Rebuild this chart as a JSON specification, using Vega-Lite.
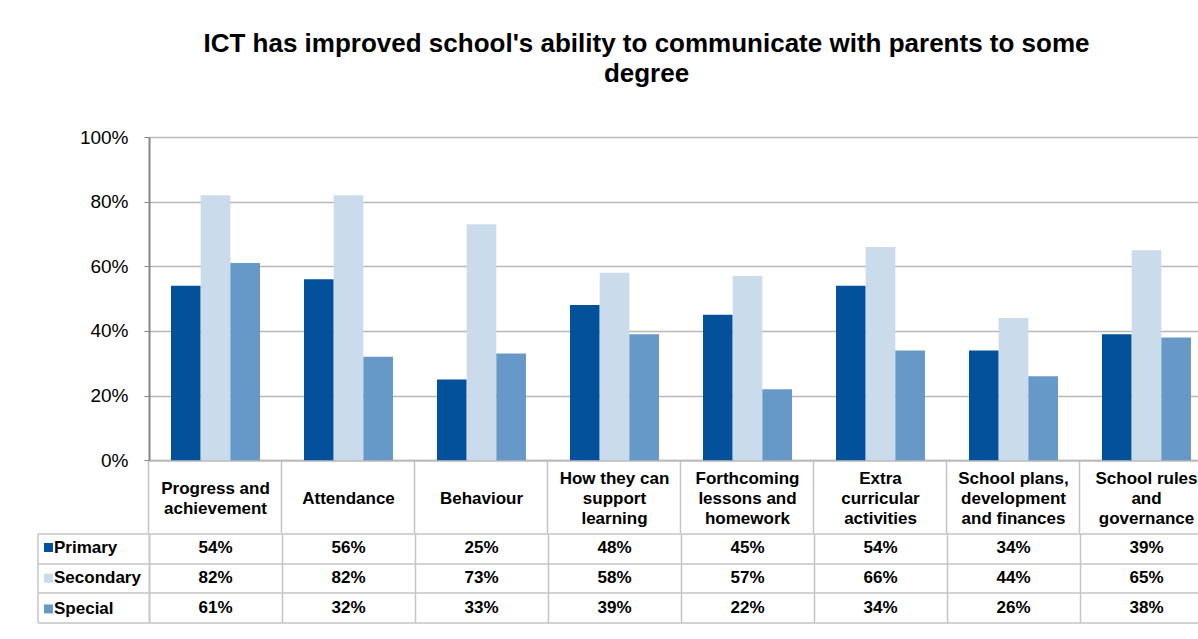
{
  "$schema": "https://vega.github.io/schema/vega-lite/v6.json",
  "usermeta": {"embedOptions": {"actions": false}},
  "padding": {"left": 36, "top": 31, "right": -13, "bottom": 0},
  "background": "white",
  "title": {
    "text": ["ICT has improved school's ability to communicate with parents to some", "degree"],
    "font": "Liberation Sans",
    "fontSize": 26,
    "fontWeight": "bold",
    "color": "black",
    "anchor": "middle",
    "frame": "group",
    "dx": -34.5,
    "lineHeight": 30,
    "offset": 41
  },
  "config": {
    "view": {"stroke": null},
    "font": "Liberation Sans",
    "legend": {"padding": 0}
  },
  "data": {
    "values": [
      {"category": "Progress and achievement", "series": "Primary", "value": 0.54},
      {"category": "Progress and achievement", "series": "Secondary", "value": 0.82},
      {"category": "Progress and achievement", "series": "Special", "value": 0.61},
      {"category": "Attendance", "series": "Primary", "value": 0.56},
      {"category": "Attendance", "series": "Secondary", "value": 0.82},
      {"category": "Attendance", "series": "Special", "value": 0.32},
      {"category": "Behaviour", "series": "Primary", "value": 0.25},
      {"category": "Behaviour", "series": "Secondary", "value": 0.73},
      {"category": "Behaviour", "series": "Special", "value": 0.33},
      {"category": "How they can support learning", "series": "Primary", "value": 0.48},
      {"category": "How they can support learning", "series": "Secondary", "value": 0.58},
      {"category": "How they can support learning", "series": "Special", "value": 0.39},
      {"category": "Forthcoming lessons and homework", "series": "Primary", "value": 0.45},
      {"category": "Forthcoming lessons and homework", "series": "Secondary", "value": 0.57},
      {"category": "Forthcoming lessons and homework", "series": "Special", "value": 0.22},
      {"category": "Extra curricular activities", "series": "Primary", "value": 0.54},
      {"category": "Extra curricular activities", "series": "Secondary", "value": 0.66},
      {"category": "Extra curricular activities", "series": "Special", "value": 0.34},
      {"category": "School plans, development and finances", "series": "Primary", "value": 0.34},
      {"category": "School plans, development and finances", "series": "Secondary", "value": 0.44},
      {"category": "School plans, development and finances", "series": "Special", "value": 0.26},
      {"category": "School rules and governance", "series": "Primary", "value": 0.39},
      {"category": "School rules and governance", "series": "Secondary", "value": 0.65},
      {"category": "School rules and governance", "series": "Special", "value": 0.38}
    ]
  },
  "vconcat": [
    {
      "width": 1064,
      "height": 323.3,
      "mark": {"type": "bar"},
      "encoding": {
        "x": {
          "field": "category",
          "type": "nominal",
          "sort": null,
          "scale": {"paddingInner": 0.331, "paddingOuter": 0.1655},
          "axis": {
            "title": null,
            "domainColor": "#bcbcbc",
            "domainWidth": 2,
            "ticks": true,
            "bandPosition": -0.2475,
            "tickSize": 72.5,
            "tickColor": "#c4c4c4",
            "tickWidth": 1.5,
            "labelAngle": 0,
            "labelFont": "Liberation Sans",
            "labelFontSize": 17,
            "labelFontWeight": "bold",
            "labelColor": "black",
            "labelBaseline": "middle",
            "labelLineHeight": 20,
            "labelPadding": {
              "condition": [
                {"test": "datum.value === 'Attendance' || datum.value === 'Behaviour'", "value": -34.8},
                {"test": "datum.value === 'Progress and achievement'", "value": -44.8}
              ],
              "value": -54.8
            },
            "labelOffset": 0,
            "labelOverlap": false,
            "labelFlush": false,
            "labelBound": false,
            "labelLimit": 0,
            "labelExpr": "{'Progress and achievement':['Progress and','achievement'],'Attendance':['Attendance'],'Behaviour':['Behaviour'],'How they can support learning':['How they can','support','learning'],'Forthcoming lessons and homework':['Forthcoming','lessons and','homework'],'Extra curricular activities':['Extra','curricular','activities'],'School plans, development and finances':['School plans,','development','and finances'],'School rules and governance':['School rules','and','governance']}[datum.label]"
          }
        },
        "xOffset": {
          "field": "series",
          "type": "nominal",
          "sort": ["Primary", "Secondary", "Special"]
        },
        "y": {
          "field": "value",
          "type": "quantitative",
          "scale": {"domain": [0, 1], "nice": false},
          "axis": {
            "title": null,
            "values": [0, 0.2, 0.4, 0.6, 0.8, 1],
            "format": ".0%",
            "domainColor": "#868686",
            "domainWidth": 2,
            "tickColor": "#868686",
            "tickSize": 5,
            "grid": true,
            "gridColor": "#b8b8b8",
            "gridWidth": 1.5,
            "labelFont": "Liberation Sans",
            "labelFontSize": 19,
            "labelColor": "black",
            "labelPadding": 16
          }
        },
        "color": {
          "field": "series",
          "type": "nominal",
          "sort": ["Primary", "Secondary", "Special"],
          "scale": {"domain": ["Primary", "Secondary", "Special"], "range": ["#03519B", "#CADCEB", "#6699C7"]},
          "legend": {
            "title": null,
            "orient": "none",
            "legendX": -109,
            "legendY": 402,
            "direction": "vertical",
            "symbolType": "square",
            "symbolSize": 81,
            "symbolStrokeWidth": 0,
            "labelFont": "Liberation Sans",
            "labelFontSize": 17,
            "labelFontWeight": "bold",
            "labelColor": "black",
            "labelOffset": -3,
            "rowPadding": 12.7,
            "padding": 0
          }
        }
      }
    },
    {
      "width": 1064,
      "height": 89,
      "layer": [
        {
          "mark": {"type": "text", "font": "Liberation Sans", "fontSize": 17, "fontWeight": "bold", "color": "black", "baseline": "middle", "align": "center"},
          "encoding": {
            "x": {
              "field": "category",
              "type": "nominal",
              "sort": null,
              "scale": {"paddingInner": 0, "paddingOuter": 0},
              "axis": {"title": null, "labels": false, "ticks": false, "domain": false, "grid": true, "tickBand": "extent", "gridColor": "#c4c4c4", "gridWidth": 1.5}
            },
            "y": {
              "field": "series",
              "type": "nominal",
              "sort": ["Primary", "Secondary", "Special"],
              "scale": {"paddingInner": 0, "paddingOuter": 0},
              "axis": {"title": null, "labels": false, "ticks": true, "tickSize": 111.5, "tickColor": "#c4c4c4", "tickWidth": 1.5, "tickBand": "extent", "domain": true, "domainColor": "#c4c4c4", "domainWidth": 1.5, "grid": true, "gridColor": "#c4c4c4", "gridWidth": 1.5}
            },
            "text": {"field": "value", "type": "quantitative", "format": ".0%"}
          }
        },
        {
          "mark": {"type": "text", "opacity": 0},
          "encoding": {
            "x": {"field": "category", "type": "nominal", "sort": null},
            "y": {
              "field": "series",
              "type": "nominal",
              "sort": ["Primary", "Secondary", "Special"],
              "axis": {"orient": "left", "offset": 111.5, "title": null, "labels": false, "ticks": false, "grid": false, "domain": true, "domainColor": "#c4c4c4", "domainWidth": 1.5}
            },
            "text": {"field": "value", "type": "quantitative", "format": ".0%"}
          }
        }
      ],
      "resolve": {"axis": {"y": "independent"}}
    }
  ],
  "spacing": 72.5,
  "bounds": "flush"
}
